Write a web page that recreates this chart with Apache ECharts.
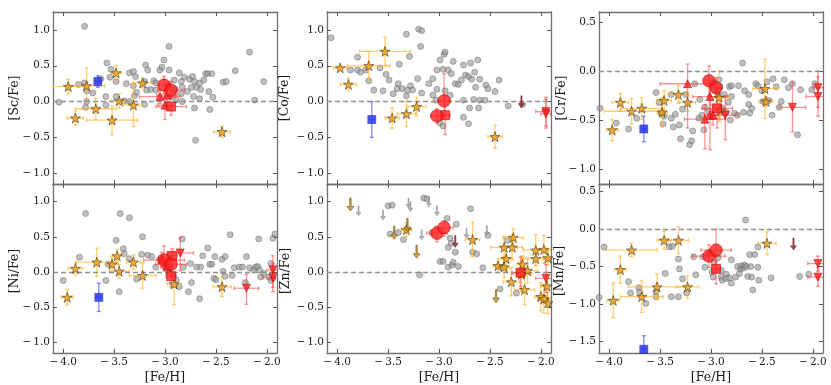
<!DOCTYPE html>
<html><head><meta charset="utf-8">
<script src="https://cdn.jsdelivr.net/npm/echarts@6/dist/echarts.min.js"></script>
<style>html,body{margin:0;padding:0;background:#fff}#c{width:831px;height:385px}</style>
</head><body><div id="c"></div>
<script>
// ---------- DATA ----------
// x tick labels
const feTicks = [-4.0, -3.5, -3.0, -2.5, -2.0];
const yTicksWide = [-1.0, -0.5, 0.0, 0.5, 1.0];
const yTicksCr = [-1.0, -0.5, 0.0, 0.5];
const yTicksMn = [-1.5, -1.0, -0.5, 0.0, 0.5];
const panelNames = ['[Sc/Fe]', '[Co/Fe]', '[Cr/Fe]', '[Ni/Fe]', '[Zn/Fe]', '[Mn/Fe]'];

// error arrays: [FeH, X/Fe, xerr, yerrDown, yerrUp]
// ---- Sc ----
const scGrey = [[-3.79,1.05],[-4.04,-0.01],[-3.85,0.24],[-3.79,0.26],[-3.77,0.15],[-3.77,0.00],[-3.78,-0.08],[-3.71,0.12],[-3.63,0.32],[-3.57,0.54],[-3.58,0.07],[-3.53,0.45],[-3.54,0.34],[-3.48,0.28],[-3.48,0.07],[-3.58,-0.05],[-3.38,0.25],[-3.35,0.40],[-3.31,0.42],[-3.31,0.22],[-3.29,0.35],[-3.30,0.08],[-3.28,0.13],[-3.40,0.01],[-3.35,0.00],[-3.19,0.51],[-3.17,0.44],[-3.20,0.28],[-3.18,0.16],[-3.20,-0.04],[-3.14,0.17],[-3.11,0.29],[-3.09,0.26],[-3.09,0.16],[-3.05,0.44],[-3.03,0.48],[-3.01,0.58],[-2.96,0.77],[-2.96,0.44],[-2.97,0.23],[-2.91,0.30],[-2.86,0.40],[-2.84,0.28],[-2.83,0.20],[-2.81,0.34],[-2.76,0.31],[-2.74,0.20],[-2.78,0.14],[-2.73,0.35],[-2.71,0.28],[-2.83,0.00],[-2.89,0.02],[-2.84,0.11],[-2.72,0.07],[-2.71,-0.09],[-2.70,-0.54],[-2.69,0.20],[-2.66,0.26],[-2.65,0.17],[-2.66,0.04],[-2.60,0.39],[-2.58,0.39],[-2.54,0.39],[-2.62,0.30],[-2.57,0.14],[-2.53,0.06],[-2.56,-0.11],[-2.43,0.27],[-2.40,0.28],[-2.31,0.43],[-2.17,0.69],[-2.12,0.02],[-2.03,0.28],[-2.90,0.17],[-2.92,0.09]];
const scStars = [[-3.95,0.21,0.15,0.10,0.10],[-3.88,-0.23,0.08,0.10,0.10],[-3.77,0.22,0.18,0.20,0.25],[-3.68,-0.10,0.20,0.15,0.15],[-3.52,-0.26,0.25,0.20,0.20],[-3.48,0.40,0.05,0.10,0.10],[-3.45,0.01,0.08,0.10,0.10],[-3.31,-0.05,0.10,0.30,0.30],[-3.22,0.26,0.09,0.07,0.07],[-2.44,-0.42,0.08,0.08,0.08]];
const scBlue = [[-3.66,0.28,0.02,0.08,0.08]];
const scRedCircle = [[-3.01,0.23,0.05,0.12,0.12],[-2.94,0.16,0.13,0.12,0.12]];
const scRedSquare = [[-2.94,-0.07,0.15,0.12,0.12]];
const scRedTriUp = [[-3.05,0.07,0.20,0.10,0.10],[-2.98,0.09,0.10,0.15,0.15],[-3.00,-0.05,0.07,0.20,0.20]];
const scRedTriDown = [];
// ---- Co ----
const coGrey = [[-4.06,0.89],[-3.87,0.44],[-3.80,0.62],[-3.80,0.44],[-3.77,0.41],[-3.72,0.44],[-3.69,0.29],[-3.64,0.16],[-3.58,0.47],[-3.55,0.15],[-3.52,0.38],[-3.49,0.30],[-3.45,0.11],[-3.40,0.25],[-3.39,0.52],[-3.41,0.18],[-3.36,0.18],[-3.32,0.94],[-3.29,0.63],[-3.31,0.16],[-3.32,0.08],[-3.28,0.22],[-3.26,0.16],[-3.20,1.01],[-3.17,0.99],[-3.18,0.77],[-3.21,0.32],[-3.17,0.12],[-3.10,0.25],[-3.06,0.09],[-3.06,0.32],[-3.02,0.17],[-3.03,0.02],[-2.99,0.58],[-2.95,0.66],[-2.94,0.69],[-2.96,0.45],[-3.02,0.44],[-2.91,0.44],[-2.88,0.39],[-2.86,0.56],[-2.94,0.15],[-2.89,0.09],[-2.99,-0.30],[-2.96,-0.34],[-2.84,0.25],[-2.81,0.24],[-2.78,0.30],[-2.76,0.51],[-2.74,0.37],[-2.71,0.35],[-2.69,0.54],[-2.62,0.58],[-2.68,0.31],[-2.65,0.41],[-2.60,0.31],[-2.64,0.20],[-2.54,0.23],[-2.52,0.18],[-2.45,0.14],[-2.41,0.30],[-2.66,0.03],[-2.70,-0.09],[-2.71,-0.31],[-2.76,-0.22],[-2.61,-0.09],[-2.55,0.02],[-2.32,-0.06],[-2.18,-0.04],[-2.76,0.02],[-2.60,0.02]];
const coStars = [[-3.97,0.47,0.065,0.03,0.03],[-3.89,0.24,0.08,0.09,0.09],[-3.69,0.50,0.21,0.20,0.20],[-3.53,0.70,0.25,0.20,0.20],[-3.46,-0.23,0.07,0.14,0.14],[-3.32,-0.17,0.09,0.18,0.18],[-3.22,-0.07,0.09,0.13,0.13],[-2.45,-0.49,0.07,0.16,0.16]];
const coBlue = [[-3.66,-0.25,0.02,0.25,0.25]];
const coRedCircle = [[-3.02,-0.20,0.06,0.10,0.10],[-2.95,0.01,0.06,0.20,0.38]];
const coRedSquare = [[-2.94,-0.19,0.05,0.27,0.27]];
const coRedTriUp = [];
const coRedTriDown = [[-1.95,-0.14,0.10,0.20,0.20],[-1.95,-0.17,0.05,0.20,0.20]];
const coLimitRed = [[-2.19,0.08]];
// ---- Cr ----
const crGrey = [[-4.09,-0.38],[-3.93,-0.53],[-3.81,-0.59],[-3.73,-0.48],[-3.54,-0.22],[-3.51,-0.32],[-3.49,-0.43],[-3.47,-0.54],[-3.46,-0.46],[-3.39,-0.24],[-3.39,-0.48],[-3.37,-0.57],[-3.35,-0.44],[-3.31,-0.55],[-3.30,-0.69],[-3.28,-0.39],[-3.25,-0.24],[-3.21,-0.75],[-3.19,-0.71],[-3.18,-0.61],[-3.16,-0.13],[-3.12,-0.48],[-3.11,-0.29],[-3.09,-0.45],[-3.07,-0.60],[-3.06,-0.37],[-3.02,-0.41],[-2.97,-0.12],[-2.97,-0.19],[-2.93,-0.23],[-2.92,-0.09],[-2.91,-0.16],[-2.87,-0.24],[-2.89,-0.38],[-2.83,-0.32],[-2.85,-0.42],[-2.82,-0.16],[-2.80,-0.15],[-2.80,-0.26],[-2.81,-0.50],[-2.77,-0.43],[-2.74,-0.45],[-2.73,-0.15],[-2.69,0.08],[-2.67,-0.20],[-2.63,-0.24],[-2.63,-0.34],[-2.68,-0.42],[-2.62,-0.43],[-2.60,-0.38],[-2.56,-0.13],[-2.54,-0.15],[-2.50,-0.20],[-2.49,-0.31],[-2.45,-0.11],[-2.43,-0.30],[-2.40,-0.45],[-2.39,-0.08],[-2.36,-0.16],[-2.33,-0.37],[-2.31,-0.31],[-2.28,-0.09],[-2.24,-0.17],[-2.20,-0.13],[-2.15,-0.65],[-2.12,-0.19],[-2.01,-0.19],[-1.98,-0.13]];
const crStars = [[-3.97,-0.60,0.06,0.11,0.11],[-3.89,-0.32,0.08,0.09,0.09],[-3.78,-0.41,0.27,0.13,0.13],[-3.68,-0.38,0.20,0.11,0.11],[-3.48,-0.42,0.05,0.15,0.15],[-3.46,-0.30,0.07,0.10,0.10],[-3.32,-0.24,0.10,0.09,0.09],[-3.23,-0.32,0.08,0.09,0.09],[-2.92,-0.27,0.10,0.25,0.27],[-2.91,-0.40,0.05,0.10,0.10],[-2.47,-0.18,0.12,0.30,0.30],[-2.46,-0.31,0.07,0.05,0.05]];
const crBlue = [[-3.66,-0.59,0.02,0.13,0.13]];
const crRedCircle = [[-3.02,-0.10,0.04,0.15,0.15],[-2.95,-0.17,0.05,0.10,0.10]];
const crRedSquare = [[-2.94,-0.38,0.15,0.20,0.20]];
const crRedTriUp = [[-3.23,-0.13,0.27,0.45,0.20],[-3.01,-0.26,0.17,0.15,0.15],[-3.06,-0.49,0.20,0.30,0.15],[-3.01,-0.45,0.05,0.35,0.30],[-2.98,-0.45,0.06,0.10,0.10]];
const crRedTriDown = [[-2.86,-0.45,0.13,0.25,0.20],[-2.20,-0.37,0.13,0.25,0.25],[-1.95,-0.17,0.05,0.20,0.17],[-1.95,-0.26,0.12,0.20,0.20]];
// ---- Ni ----
const niGrey = [[-4.00,-0.12],[-3.84,0.21],[-3.78,0.83],[-3.44,0.83],[-3.35,0.77],[-3.48,0.45],[-3.41,0.33],[-3.40,0.26],[-3.35,0.19],[-3.58,-0.12],[-3.56,0.11],[-3.45,-0.28],[-3.28,-0.10],[-3.22,0.50],[-3.23,0.25],[-3.17,0.24],[-3.13,0.22],[-3.09,0.07],[-3.04,0.20],[-3.00,0.07],[-2.96,0.07],[-2.92,-0.05],[-2.89,-0.11],[-2.86,-0.21],[-2.83,0.47],[-2.82,0.07],[-2.77,-0.28],[-2.75,0.12],[-2.74,-0.15],[-2.69,0.07],[-2.66,-0.38],[-2.65,0.07],[-2.63,0.23],[-2.58,0.34],[-2.56,0.11],[-2.54,0.11],[-2.51,0.22],[-2.52,-0.09],[-2.50,-0.11],[-2.44,0.18],[-2.43,0.01],[-2.41,0.22],[-2.41,-0.06],[-2.36,0.53],[-2.34,-0.05],[-2.32,0.06],[-2.27,0.07],[-2.24,0.07],[-2.21,-0.15],[-2.20,0.22],[-2.17,0.06],[-2.13,0.03],[-2.11,0.07],[-2.09,0.08],[-2.08,0.47],[-2.07,0.03],[-2.06,-0.07],[-2.03,-0.02],[-1.98,-0.07],[-1.96,0.12],[-1.94,0.48],[-1.92,0.54],[-1.94,-0.09],[-1.96,-0.12]];
const niStars = [[-3.96,-0.36,0.06,0.11,0.11],[-3.88,0.05,0.07,0.09,0.09],[-3.67,0.14,0.20,0.20,0.20],[-3.52,0.11,0.06,0.10,0.10],[-3.47,0.23,0.05,0.09,0.09],[-3.45,0.01,0.10,0.10,0.10],[-3.31,0.14,0.07,0.10,0.10],[-3.22,-0.05,0.13,0.18,0.18],[-2.91,-0.17,0.07,0.30,0.17],[-2.44,-0.21,0.09,0.14,0.14]];
const niBlue = [[-3.65,-0.36,0.02,0.20,0.20]];
const niRedCircle = [[-3.01,0.17,0.20,0.12,0.20],[-2.94,0.11,0.15,0.10,0.12]];
const niRedSquare = [[-2.93,0.23,0.05,0.10,0.10],[-2.94,-0.06,0.05,0.15,0.15]];
const niRedTriUp = [[-2.98,0.07,0.06,0.10,0.10],[-3.03,0.18,0.05,0.10,0.10]];
const niRedTriDown = [[-2.85,0.27,0.13,0.25,0.22],[-2.20,-0.23,0.12,0.23,0.20],[-1.94,0.03,0.06,0.25,0.20],[-1.94,-0.08,0.10,0.20,0.20]];
// ---- Zn ----
const znGrey = [[-3.50,0.94],[-3.46,0.95],[-3.40,0.56],[-3.48,0.54],[-3.35,0.46],[-3.15,1.05],[-3.12,1.04],[-3.19,-0.04],[-3.07,0.56],[-2.92,0.76],[-2.91,0.35],[-2.99,0.15],[-2.96,0.15],[-2.91,0.07],[-2.89,0.48],[-2.88,0.41],[-2.87,0.10],[-2.83,0.68],[-2.81,0.08],[-2.69,0.90],[-2.67,0.28],[-2.63,0.26],[-2.57,0.06],[-2.52,0.52],[-2.40,-0.24],[-2.33,0.45],[-2.24,-0.30],[-2.86,0.14],[-2.84,0.28]];
const znLimitGrey = [[-3.79,0.94],[-3.55,0.88],[-3.30,1.05],[-3.28,1.00],[-3.10,1.07],[-3.02,0.94],[-3.17,0.60],[-2.73,0.62],[-2.53,0.66]];
const znLimitOrange = [[-3.87,1.05],[-3.44,0.65],[-3.31,0.76],[-3.22,0.38],[-2.44,-0.25]];
const znLimitRed = [[-2.84,0.52]];
const znStars = [[-3.32,0.60,0.05,0.10,0.10],[-2.67,0.46,0.07,0.24,0.25],[-2.27,0.49,0.10,0.12,0.12],[-2.36,0.35,0.13,0.15,0.15],[-2.28,0.35,0.10,0.18,0.18],[-2.34,0.19,0.05,0.15,0.15],[-2.42,0.09,0.05,0.10,0.10],[-2.36,0.07,0.05,0.15,0.15],[-2.29,-0.14,0.08,0.20,0.20],[-2.18,0.11,0.05,0.12,0.12],[-2.19,-0.03,0.10,0.25,0.25],[-2.16,-0.25,0.10,0.22,0.20],[-2.13,0.02,0.10,0.18,0.18],[-2.05,0.31,0.12,0.22,0.22],[-2.05,0.19,0.12,0.10,0.10],[-1.97,0.32,0.07,0.20,0.20],[-1.93,0.20,0.05,0.10,0.10],[-2.00,-0.35,0.06,0.20,0.20],[-1.97,-0.38,0.06,0.20,0.20],[-1.94,-0.20,0.06,0.20,0.20],[-1.93,-0.44,0.05,0.15,0.15]];
const znBlue = [];
const znRedCircle = [[-3.02,0.55,0.10,0.12,0.10],[-2.95,0.63,0.09,0.12,0.10]];
const znRedSquare = [[-2.20,-0.01,0.08,0.20,0.22]];
const znRedTriUp = [];
const znRedTriDown = [[-1.95,-0.09,0.10,0.20,0.20]];
// ---- Mn ----
const mnGrey = [[-4.10,-0.91],[-4.05,-0.24],[-3.81,-0.70],[-3.79,-0.85],[-3.71,-0.78],[-3.70,-0.84],[-3.64,-0.99],[-3.54,-0.83],[-3.54,-0.90],[-3.45,-0.59],[-3.41,-0.24],[-3.38,-0.23],[-3.39,-0.90],[-3.32,-0.90],[-3.32,-0.40],[-3.31,-0.53],[-3.28,-0.66],[-3.24,-0.85],[-3.15,-0.61],[-3.17,-0.37],[-3.08,-0.37],[-3.06,-0.51],[-3.02,-0.33],[-2.99,-0.57],[-2.98,-0.64],[-2.97,-0.44],[-2.93,-0.38],[-2.90,-0.55],[-2.90,-0.64],[-2.89,-0.68],[-2.85,-0.60],[-2.85,-0.66],[-2.82,-0.65],[-2.80,-0.72],[-2.76,-0.64],[-2.74,-0.50],[-2.72,-0.59],[-2.71,-0.53],[-2.70,-0.49],[-2.68,-0.52],[-2.67,-0.48],[-2.65,-0.50],[-2.64,-0.63],[-2.62,-0.34],[-2.61,-0.50],[-2.60,-0.64],[-2.59,-0.81],[-2.66,0.12],[-2.54,-0.51],[-2.53,-0.68],[-2.57,-0.34],[-2.54,-0.24],[-2.41,-0.65],[-2.13,-0.63],[-2.04,-0.60],[-2.80,-0.41]];
const mnStars = [[-3.96,-0.95,0.06,0.23,0.23],[-3.89,-0.54,0.06,0.18,0.18],[-3.78,-0.28,0.25,0.09,0.09],[-3.68,-0.90,0.21,0.21,0.21],[-3.53,-0.77,0.28,0.17,0.17],[-3.46,-0.15,0.07,0.12,0.12],[-3.32,-0.15,0.10,0.18,0.18],[-3.23,-0.77,0.11,0.15,0.15],[-2.45,-0.19,0.09,0.15,0.15]];
const mnBlue = [[-3.66,-1.60,0.02,0.10,0.18]];
const mnRedCircle = [[-3.02,-0.36,0.16,0.15,0.15],[-2.95,-0.28,0.15,0.25,0.28]];
const mnRedSquare = [[-2.95,-0.53,0.04,0.20,0.10]];
const mnRedTriUp = [];
const mnRedTriDown = [[-1.95,-0.46,0.10,0.10,0.10],[-1.95,-0.64,0.10,0.12,0.12]];
const mnLimitRed = [[-2.19,-0.12]];

// ---------- BUILD ----------
const FONT = 'DejaVu Serif';
const STAR = 'path://M50,0L61.8,35.1L98.1,35.1L68.8,56.7L79.4,90.9L50,69.5L20.6,90.9L31.2,56.7L1.9,35.1L38.2,35.1Z';
const ARROW = 'path://M4,0L6,0L6,11L10,11L5,17L0,11L4,11Z';
const panels = [
  {grey:scGrey, stars:scStars, blue:scBlue, rc:scRedCircle, rs:scRedSquare, ru:scRedTriUp, rd:scRedTriDown, lr:[], lg:[], lo:[], y:[-1.15,1.25], yt:yTicksWide, nx:15},
  {grey:coGrey, stars:coStars, blue:coBlue, rc:coRedCircle, rs:coRedSquare, ru:coRedTriUp, rd:coRedTriDown, lr:coLimitRed, lg:[], lo:[], y:[-1.15,1.25], yt:yTicksWide, nx:285},
  {grey:crGrey, stars:crStars, blue:crBlue, rc:crRedCircle, rs:crRedSquare, ru:crRedTriUp, rd:crRedTriDown, lr:[], lg:[], lo:[], y:[-1.15,0.6], yt:yTicksCr, nx:562},
  {grey:niGrey, stars:niStars, blue:niBlue, rc:niRedCircle, rs:niRedSquare, ru:niRedTriUp, rd:niRedTriDown, lr:[], lg:[], lo:[], y:[-1.15,1.25], yt:yTicksWide, nx:15},
  {grey:znGrey, stars:znStars, blue:znBlue, rc:znRedCircle, rs:znRedSquare, ru:znRedTriUp, rd:znRedTriDown, lr:znLimitRed, lg:znLimitGrey, lo:znLimitOrange, y:[-1.15,1.25], yt:yTicksWide, nx:286},
  {grey:mnGrey, stars:mnStars, blue:mnBlue, rc:mnRedCircle, rs:mnRedSquare, ru:mnRedTriUp, rd:mnRedTriDown, lr:mnLimitRed, lg:[], lo:[], y:[-1.65,0.6], yt:yTicksMn, nx:560}
];
const layout = [[53,12,224,172],[327,12,224,172],[599,12,224,172],[53,184,224,174],[327,184,224,174],[599,184,224,174]];
const fmt = v => (v < 0 ? '\u2212\u2009' : '') + Math.abs(v).toFixed(1);

function errRender(color){
  return function(params, api){
    const x=api.value(0), y=api.value(1), xe=api.value(2), yd=api.value(3), yu=api.value(4);
    const st={stroke:color, lineWidth:1.3};
    const ch=[]; const cap=2;
    if(xe>0){
      const L=api.coord([x-xe,y]), R=api.coord([x+xe,y]);
      ch.push({type:'line',shape:{x1:L[0],y1:L[1],x2:R[0],y2:R[1]},style:st});
      ch.push({type:'line',shape:{x1:L[0],y1:L[1]-cap,x2:L[0],y2:L[1]+cap},style:st});
      ch.push({type:'line',shape:{x1:R[0],y1:R[1]-cap,x2:R[0],y2:R[1]+cap},style:st});
    }
    if(yd>0||yu>0){
      const B=api.coord([x,y-yd]), T=api.coord([x,y+yu]);
      ch.push({type:'line',shape:{x1:B[0],y1:B[1],x2:T[0],y2:T[1]},style:st});
      ch.push({type:'line',shape:{x1:B[0]-cap,y1:B[1],x2:B[0]+cap,y2:B[1]},style:st});
      ch.push({type:'line',shape:{x1:T[0]-cap,y1:T[1],x2:T[0]+cap,y2:T[1]},style:st});
    }
    return {type:'group',children:ch};
  };
}

const grid=[], xAxis=[], yAxis=[], series=[], graphic=[];
const axLine = {show:true, onZero:false, lineStyle:{color:'#707070', width:1.3}};
const labelStyle = {fontFamily:FONT, fontSize:10.5, color:'#1a1a1a'};
const nameStyle = {fontFamily:FONT, fontSize:12.5, color:'#1a1a1a'};
panels.forEach((p,i)=>{
  const [l,t,w,h]=layout[i];
  grid.push({left:l, top:t, width:w, height:h});
  graphic.push({type:'text', x:p.nx, y:t+h/2, rotation:Math.PI/2, silent:true,
    style:{text:panelNames[i], align:'center', verticalAlign:'middle', font:'12.5px "DejaVu Serif"', fill:'#1a1a1a'}});
  const bottomRow = i>=3;
  const tick = {show:true, inside:true, length:4, lineStyle:{color:'#555', width:1}, customValues:feTicks};
  xAxis.push({type:'value', gridIndex:i, position:'bottom', min:-4.1, max:-1.9, axisLine:axLine, axisTick:tick,
    splitLine:{show:false},
    axisLabel:Object.assign({show:bottomRow, customValues:feTicks, formatter:fmt, margin:4}, labelStyle),
    name: bottomRow ? '[Fe/H]' : '', nameLocation:'middle', nameGap:18, nameTextStyle:nameStyle});
  xAxis.push({type:'value', gridIndex:i, position:'top', min:-4.1, max:-1.9, axisLine:axLine, axisTick:tick,
    splitLine:{show:false}, axisLabel:{show:false}});
  const ytick = {show:true, inside:true, length:4, lineStyle:{color:'#555', width:1}, customValues:p.yt};
  yAxis.push({type:'value', gridIndex:i, position:'left', min:p.y[0], max:p.y[1], axisLine:axLine, axisTick:ytick,
    splitLine:{show:false},
    axisLabel:Object.assign({show:true, customValues:p.yt, formatter:fmt, margin:3}, labelStyle)});
  yAxis.push({type:'value', gridIndex:i, position:'right', min:p.y[0], max:p.y[1], axisLine:axLine, axisTick:ytick,
    splitLine:{show:false}, axisLabel:{show:false}});
  const xi=2*i, yi=2*i;
  // grey comparison sample + zero line
  series.push({type:'scatter', xAxisIndex:xi, yAxisIndex:yi, data:p.grey, symbol:'circle', symbolSize:6, z:2,
    itemStyle:{color:'rgba(150,150,150,0.75)', borderColor:'rgba(90,90,90,0.8)', borderWidth:0.7},
    markLine:{silent:true, symbol:'none', label:{show:false}, animation:false,
      lineStyle:{type:[5,3], color:'#909090', width:1.4}, data:[{yAxis:0}]}});
  // grey limits
  if(p.lg.length) series.push({type:'scatter', xAxisIndex:xi, yAxisIndex:yi, data:p.lg, symbol:ARROW, symbolSize:[5,10], symbolOffset:[0,'50%'], z:3,
    itemStyle:{color:'#a0a0a0', borderColor:'#808080', borderWidth:0.5}});
  // error bars
  const eb = (data,color,z)=>{ if(data.length) series.push({type:'custom', xAxisIndex:xi, yAxisIndex:yi, data:data, clip:true, z:z,
    encode:{x:0,y:1}, renderItem:errRender(color), silent:true}); };
  eb(p.stars,'rgba(255,180,40,0.65)',4);
  eb(p.blue,'rgba(70,70,255,0.65)',4);
  eb([].concat(p.rc,p.rs,p.ru,p.rd),'rgba(255,60,60,0.55)',4);
  // stars
  series.push({type:'scatter', xAxisIndex:xi, yAxisIndex:yi, data:p.stars.map(d=>[d[0],d[1]]), symbol:STAR, symbolSize:10, z:5,
    itemStyle:{color:'#f0a020', borderColor:'#3a2a00', borderWidth:0.7}});
  if(p.lo.length) series.push({type:'scatter', xAxisIndex:xi, yAxisIndex:yi, data:p.lo, symbol:ARROW, symbolSize:[7,13], symbolOffset:[0,'50%'], z:5,
    itemStyle:{color:'#c8901a', borderColor:'#5a3a00', borderWidth:0.6}});
  if(p.blue.length) series.push({type:'scatter', xAxisIndex:xi, yAxisIndex:yi, data:p.blue.map(d=>[d[0],d[1]]), symbol:'rect', symbolSize:8, z:6,
    itemStyle:{color:'#2233ee', borderColor:'#1010a0', borderWidth:0.6}});
  const red = {color:'#ff1f1f', borderColor:'#b00000', borderWidth:0.7};
  if(p.ru.length) series.push({type:'scatter', xAxisIndex:xi, yAxisIndex:yi, data:p.ru.map(d=>[d[0],d[1]]), symbol:'triangle', symbolSize:8, z:6, itemStyle:red});
  if(p.rd.length) series.push({type:'scatter', xAxisIndex:xi, yAxisIndex:yi, data:p.rd.map(d=>[d[0],d[1]]), symbol:'triangle', symbolRotate:180, symbolSize:8, z:6, itemStyle:red});
  if(p.rs.length) series.push({type:'scatter', xAxisIndex:xi, yAxisIndex:yi, data:p.rs.map(d=>[d[0],d[1]]), symbol:'rect', symbolSize:9, z:7, itemStyle:red});
  if(p.rc.length) series.push({type:'scatter', xAxisIndex:xi, yAxisIndex:yi, data:p.rc.map(d=>[d[0],d[1]]), symbol:'circle', symbolSize:12.5, z:7, itemStyle:red});
  if(p.lr.length) series.push({type:'scatter', xAxisIndex:xi, yAxisIndex:yi, data:p.lr, symbol:ARROW, symbolSize:[6,12], symbolOffset:[0,'50%'], z:7,
    itemStyle:{color:'#8b1a1a', borderColor:'#5a0a0a', borderWidth:0.5}});
});

const chart = echarts.init(document.getElementById('c'), null, {renderer:'canvas'});
chart.setOption({animation:false, backgroundColor:'#fff', grid, xAxis, yAxis, series, graphic});
</script></body></html>
